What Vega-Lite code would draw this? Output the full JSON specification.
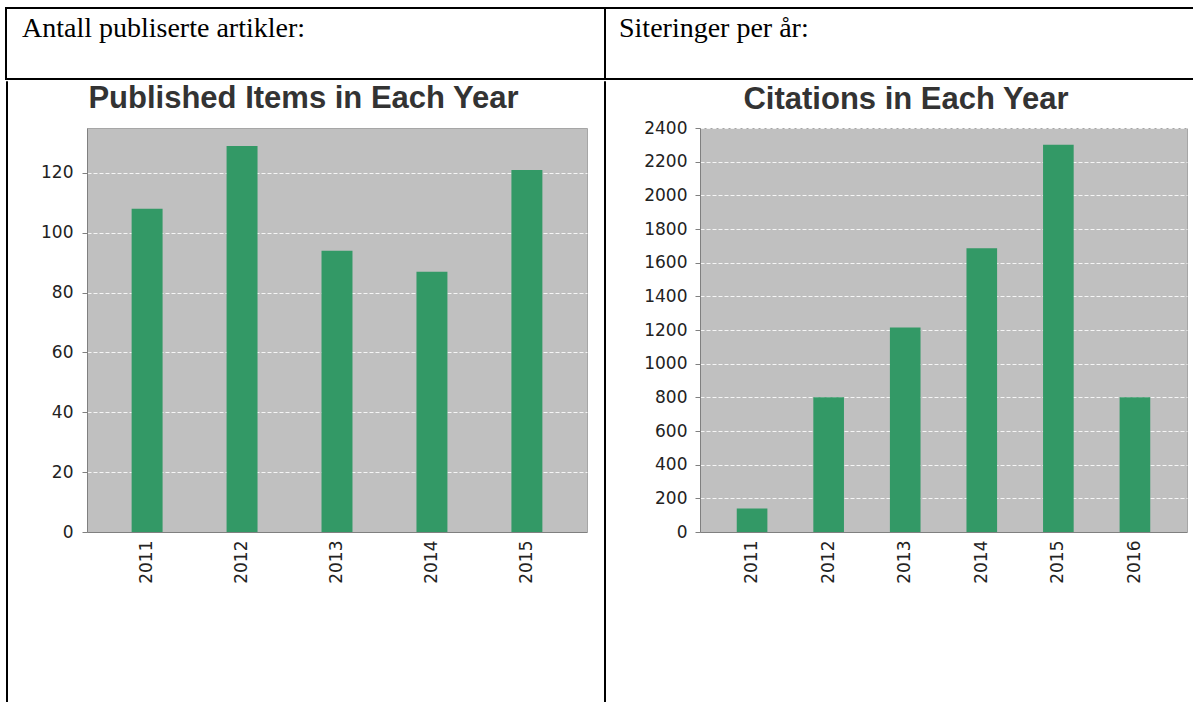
{
  "$schema": "https://vega.github.io/schema/vega-lite/v6.json",
  "background": "white",
  "padding": {"left": 5, "top": 7, "right": 0, "bottom": 0},
  "spacing": 0,
  "config": {
    "view": {"stroke": null},
    "axis": {
      "title": null,
      "labelFont": "DejaVu Sans",
      "labelFontSize": 17,
      "labelColor": "#222222",
      "domainColor": "#808080",
      "tickColor": "#808080"
    }
  },
  "vconcat": [
    {
      "bounds": "flush",
      "spacing": 0,
      "hconcat": [
        {
          "width": 599,
          "height": 71,
          "view": {"stroke": "black", "strokeWidth": 2},
          "title": {"text": "Antall publiserte artikler:", "anchor": "start", "frame": "group", "dx": 16, "offset": -35, "baseline": "top", "font": "Liberation Serif", "fontSize": 28, "fontWeight": "normal", "color": "black"},
          "data": {"values": [{}]},
          "mark": "text",
          "encoding": {}
        },
        {
          "width": 588,
          "height": 71,
          "view": {"stroke": "black", "strokeWidth": 2, "strokeDash": [588, 71, 1000, 0]},
          "title": {"text": "Siteringer per år:", "anchor": "start", "frame": "group", "dx": 14, "offset": -35, "baseline": "top", "font": "Liberation Serif", "fontSize": 28, "fontWeight": "normal", "color": "black"},
          "data": {"values": [{}]},
          "mark": "text",
          "encoding": {}
        }
      ]
    },
    {
      "spacing": 0,
      "hconcat": [
        {
          "width": 1,
          "height": 621,
          "view": {"stroke": "black", "strokeWidth": 1},
          "data": {"values": [{}]},
          "mark": "text",
          "encoding": {}
        },
        {
          "width": 16,
          "height": 47,
          "data": {"values": [{}]},
          "mark": "text",
          "encoding": {}
        },
        {
          "bounds": "flush",
          "spacing": 0,
          "vconcat": [
            {
              "width": 500,
              "height": 47,
              "data": {"values": [{}]},
              "mark": "text",
              "encoding": {}
            },
            {
              "width": 500,
              "height": 404,
              "view": {"fill": "#c0c0c0", "stroke": "#a6a6a6", "strokeWidth": 1},
              "title": {"text": "Published Items in Each Year", "font": "Liberation Sans", "fontSize": 31, "fontWeight": "bold", "color": "#333333", "anchor": "middle", "frame": "group", "dx": -33.5, "offset": 13, "baseline": "top"},
              "data": {
                "values": [
                  {"year": "2011", "items": 108},
                  {"year": "2012", "items": 129},
                  {"year": "2013", "items": 94},
                  {"year": "2014", "items": 87},
                  {"year": "2015", "items": 121}
                ]
              },
              "mark": {"type": "bar", "color": "#339966"},
              "encoding": {
                "x": {
                  "field": "year",
                  "type": "ordinal",
                  "scale": {"paddingInner": 0.674, "paddingOuter": 0.47},
                  "axis": {"labelAngle": -90, "ticks": false, "labelPadding": 8}
                },
                "y": {
                  "field": "items",
                  "type": "quantitative",
                  "scale": {"domain": [0, 135], "nice": false},
                  "axis": {"values": [0, 20, 40, 60, 80, 100, 120], "format": "d", "tickSize": 5, "labelPadding": 9, "minExtent": 62, "maxExtent": 62, "gridColor": "white", "gridDash": [4, 2], "gridOpacity": 0.85}
                }
              }
            }
          ]
        },
        {
          "width": 15,
          "height": 47,
          "data": {"values": [{}]},
          "mark": "text",
          "encoding": {}
        },
        {
          "width": 1,
          "height": 621,
          "view": {"stroke": "black", "strokeWidth": 1},
          "data": {"values": [{}]},
          "mark": "text",
          "encoding": {}
        },
        {
          "width": 18.5,
          "height": 47,
          "data": {"values": [{}]},
          "mark": "text",
          "encoding": {}
        },
        {
          "bounds": "flush",
          "spacing": 0,
          "vconcat": [
            {
              "width": 487,
              "height": 47,
              "data": {"values": [{}]},
              "mark": "text",
              "encoding": {}
            },
            {
              "width": 487,
              "height": 404,
              "view": {"fill": "#c0c0c0", "stroke": "#a6a6a6", "strokeWidth": 1},
              "title": {"text": "Citations in Each Year", "font": "Liberation Sans", "fontSize": 31, "fontWeight": "bold", "color": "#333333", "anchor": "middle", "frame": "group", "dx": -37.5, "offset": 3.5, "baseline": "top"},
              "data": {
                "values": [
                  {"year": "2011", "citations": 140},
                  {"year": "2012", "citations": 800},
                  {"year": "2013", "citations": 1215},
                  {"year": "2014", "citations": 1685},
                  {"year": "2015", "citations": 2300},
                  {"year": "2016", "citations": 800}
                ]
              },
              "mark": {"type": "bar", "color": "#339966"},
              "encoding": {
                "x": {
                  "field": "year",
                  "type": "ordinal",
                  "scale": {"paddingInner": 0.6, "paddingOuter": 0.48},
                  "axis": {"labelAngle": -90, "ticks": false, "labelPadding": 8}
                },
                "y": {
                  "field": "citations",
                  "type": "quantitative",
                  "scale": {"domain": [0, 2400], "nice": false},
                  "axis": {"values": [0, 200, 400, 600, 800, 1000, 1200, 1400, 1600, 1800, 2000, 2200, 2400], "format": "d", "tickSize": 5, "labelPadding": 8, "minExtent": 74, "maxExtent": 74, "gridColor": "white", "gridDash": [4, 2], "gridOpacity": 0.85}
                }
              }
            }
          ]
        }
      ]
    }
  ]
}
